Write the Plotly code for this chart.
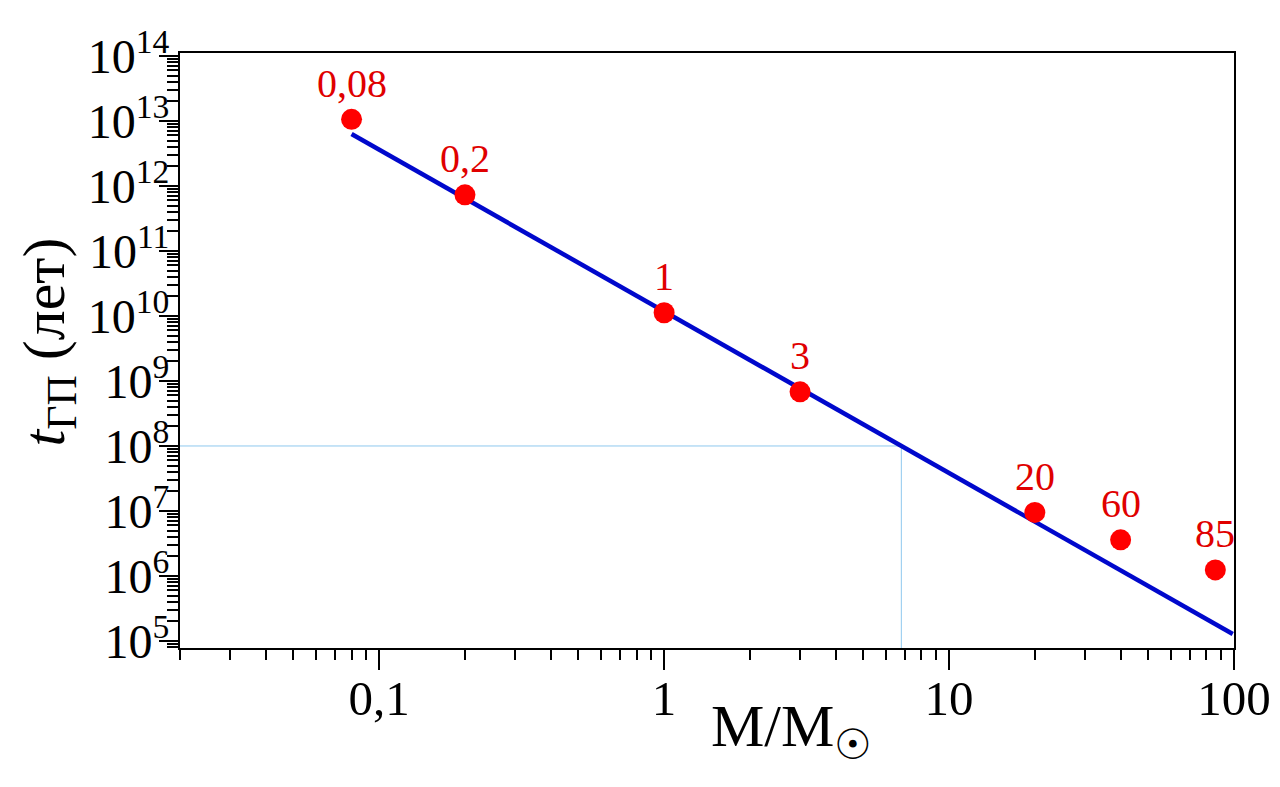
import math
import plotly.graph_objects as go

# ---- data ----
mass = [0.08, 0.2, 1, 3, 20, 40, 86]
lifetime = [1.06e13, 7.3e11, 1.12e10, 6.8e8, 9.5e6, 3.6e6, 1.24e6]
point_labels = ["0,08", "0,2", "1", "3", "20", "60", "85"]

fit_mass = [0.08, 99]
fit_time = [6.3e12, 1.28e5]

guide_mass = [0.02, 6.8, 6.8]
guide_time = [1e8, 1e8, 7.8e4]

x_tick_vals = [0.1, 1, 10, 100]
x_tick_text = ["0,1", "1", "10", "100"]
y_exponents = list(range(5, 15))

x_range = [math.log10(0.02), 2.0]
y_range = [4.892, 14.046]

# ---- derived tick config ----
y_tick_vals = [10.0 ** e for e in y_exponents]
y_tick_text = ["10<sup>%d</sup>" % e for e in y_exponents]
x_minor = [m * 10.0 ** d for d in range(-2, 2) for m in range(2, 10)]
y_minor = [m * 10.0 ** d for d in range(4, 14) for m in range(2, 10)]

SERIF = "Liberation Serif, Times New Roman, serif"

fig = go.Figure()
fig.add_trace(go.Scatter(
    x=guide_mass, y=guide_time, mode="lines",
    line=dict(color="#8ec8ee", width=1), hoverinfo="skip", showlegend=False))
fig.add_trace(go.Scatter(
    x=fit_mass, y=fit_time, mode="lines",
    line=dict(color="#0008cc", width=4.5), showlegend=False))
fig.add_trace(go.Scatter(
    x=mass, y=lifetime, mode="markers",
    marker=dict(color="#ff0000", size=21), showlegend=False))

for m, t, lab in zip(mass, lifetime, point_labels):
    fig.add_annotation(x=math.log10(m), y=math.log10(t), text=lab,
                       showarrow=False, yanchor="middle", xanchor="center",
                       yshift=36,
                       font=dict(family=SERIF, size=40, color="#e00000"))

# axis titles
fig.add_annotation(xref="paper", yref="paper", x=0, y=0.5,
                   xshift=-132, yshift=8, textangle=-90, showarrow=False,
                   xanchor="center", yanchor="middle",
                   text="<i>t</i><sub>ГП</sub> (лет)",
                   font=dict(family=SERIF, size=60, color="black"))
fig.add_annotation(xref="paper", yref="paper", x=0.58, y=0,
                   yshift=-122, showarrow=False,
                   xanchor="center", yanchor="bottom",
                   text="M/M<sub>☉</sub>",
                   font=dict(family=SERIF, size=60, color="black"))

fig.update_xaxes(
    type="log", range=x_range, automargin=False,
    tickmode="array", tickvals=x_tick_vals, ticktext=x_tick_text,
    ticks="outside", ticklen=20, tickwidth=2, tickcolor="black",
    minor=dict(tickmode="array", tickvals=x_minor, ticks="outside",
               ticklen=10, tickwidth=2, tickcolor="black", showgrid=False),
    showgrid=False, zeroline=False,
    showline=True, linecolor="black", linewidth=2, mirror=True,
    ticklabelstandoff=-14,
    tickfont=dict(family=SERIF, size=49, color="black"))
fig.update_yaxes(
    type="log", range=y_range, automargin=False,
    tickmode="array", tickvals=y_tick_vals, ticktext=y_tick_text,
    ticks="outside", ticklen=19, tickwidth=2, tickcolor="black",
    minor=dict(tickmode="array", tickvals=y_minor, ticks="outside",
               ticklen=11, tickwidth=2, tickcolor="black", showgrid=False),
    showgrid=False, zeroline=False,
    showline=True, linecolor="black", linewidth=2, mirror=True,
    ticklabelstandoff=-20,
    tickfont=dict(family=SERIF, size=48, color="black"))

# the page body adds an 8px margin at left/top, so the figure is offset by 8px
fig.update_layout(
    width=1272, height=779,
    margin=dict(l=172, r=46, t=45, b=139),
    paper_bgcolor="white", plot_bgcolor="white",
    showlegend=False)

fig.write_html("out.html")
